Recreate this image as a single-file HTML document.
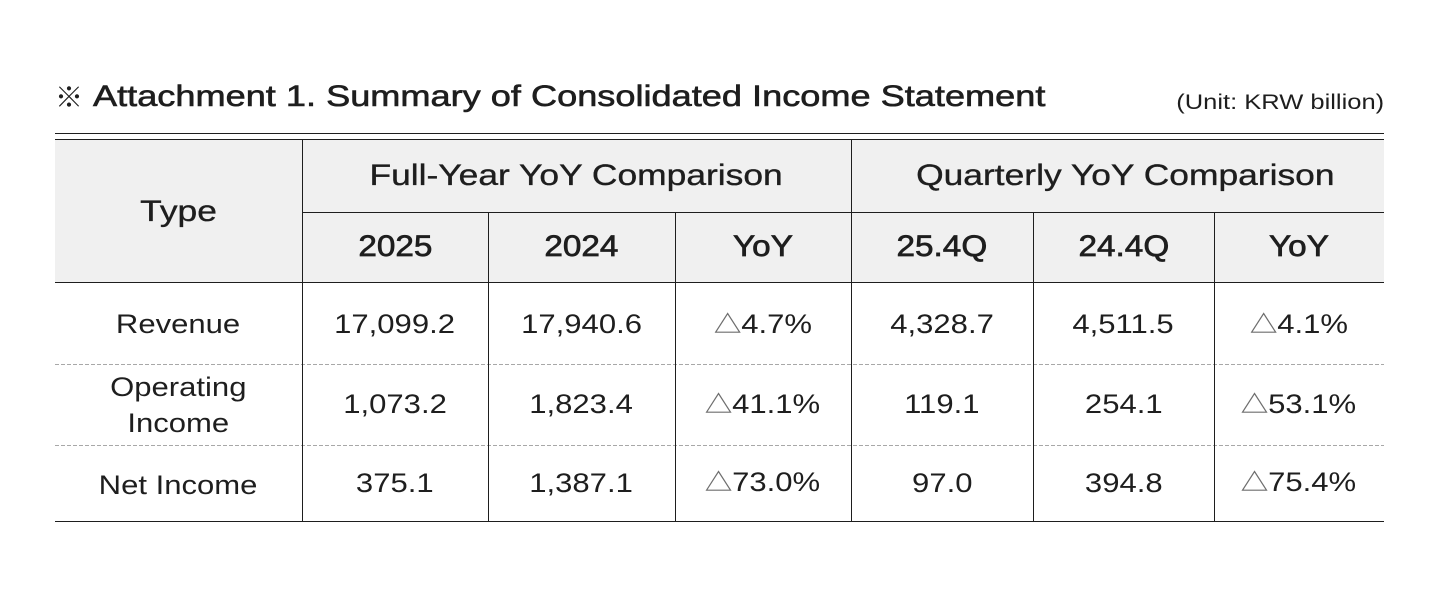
<!DOCTYPE html>
<html>
<head>
<meta charset="utf-8">
<style>
  html,body{margin:0;padding:0;background:#fff;}
  body{width:1440px;height:600px;position:relative;overflow:hidden;font-family:"Liberation Sans","Noto Sans CJK KR",sans-serif;color:#1e1e1e;}
  .c{position:absolute;height:40px;line-height:40px;text-align:center;white-space:nowrap;}
  .c span{display:inline-block;transform-origin:center center;}
  .b{font-size:27px;}
  .b span{transform:scaleX(1.15);}
  .h1{font-size:30px;-webkit-text-stroke:0.35px #1e1e1e;}
  .h1 span{transform:scaleX(1.18);}
  .h2{font-size:30px;-webkit-text-stroke:0.7px #1e1e1e;}
  .h2 span{transform:scaleX(1.11);}
  .tri{display:inline-block;width:22.6px;height:21px;vertical-align:baseline;margin-right:0.5px;}
</style>
</head>
<body>
<svg width="1440" height="600" style="position:absolute;left:0;top:0" xmlns="http://www.w3.org/2000/svg">
  <rect x="55" y="140" width="1329" height="142" fill="#f0f0f0"/>
  <g stroke="#1e1e1e" stroke-width="1">
    <line x1="55" y1="133.5" x2="1384" y2="133.5"/>
    <line x1="55" y1="139.5" x2="1384" y2="139.5"/>
    <line x1="302" y1="212.5" x2="1384" y2="212.5"/>
    <line x1="55" y1="282.5" x2="1384" y2="282.5"/>
    <line x1="55" y1="521.5" x2="1384" y2="521.5"/>
  </g>
  <g stroke="#a8a8a8" stroke-width="1" stroke-dasharray="4 2">
    <line x1="55" y1="364.5" x2="1384" y2="364.5"/>
    <line x1="55" y1="445.5" x2="1384" y2="445.5"/>
  </g>
  <g stroke="#1e1e1e" stroke-width="1">
    <line x1="302.5" y1="140" x2="302.5" y2="521"/>
    <line x1="851.5" y1="140" x2="851.5" y2="521"/>
    <line x1="488.5" y1="212" x2="488.5" y2="521"/>
    <line x1="675.5" y1="212" x2="675.5" y2="521"/>
    <line x1="1033.5" y1="212" x2="1033.5" y2="521"/>
    <line x1="1214.5" y1="212" x2="1214.5" y2="521"/>
  </g>
</svg>

<!-- Title -->
<div style="position:absolute;left:55px;top:76px;height:40px;line-height:40px;font-family:'Noto Sans CJK KR','Noto Sans CJK JP',sans-serif;font-size:28px;color:#1e1e1e;">※</div>
<div style="position:absolute;left:93px;top:76.5px;height:40px;line-height:40px;font-size:30px;white-space:nowrap;-webkit-text-stroke:0.6px #1e1e1e;transform-origin:left center;transform:scaleX(1.205);">Attachment 1. Summary of Consolidated Income Statement</div>
<div style="position:absolute;right:56px;top:82.5px;height:40px;line-height:40px;font-size:21px;white-space:nowrap;transform-origin:right center;transform:scaleX(1.215);">(Unit: KRW billion)</div>

<!-- Header -->
<div class="c h1" style="left:55px;width:247px;top:191.5px;"><span>Type</span></div>
<div class="c h1" style="left:302px;width:549px;top:155.5px;"><span>Full-Year YoY Comparison</span></div>
<div class="c h1" style="left:866px;width:518px;top:155.5px;"><span>Quarterly YoY Comparison</span></div>

<div class="c h2" style="left:302px;width:186px;top:226.5px;"><span>2025</span></div>
<div class="c h2" style="left:488px;width:187px;top:226.5px;"><span>2024</span></div>
<div class="c h2" style="left:675px;width:176px;top:226.5px;"><span>YoY</span></div>
<div class="c h2" style="left:851px;width:182px;top:226.5px;"><span>25.4Q</span></div>
<div class="c h2" style="left:1033px;width:181px;top:226.5px;"><span>24.4Q</span></div>
<div class="c h2" style="left:1214px;width:170px;top:226.5px;"><span>YoY</span></div>

<!-- Row 1 -->
<div class="c b" style="left:55px;width:247px;top:303.5px;"><span>Revenue</span></div>
<div class="c b" style="left:302px;width:186px;top:303.5px;"><span>17,099.2</span></div>
<div class="c b" style="left:488px;width:187px;top:303.5px;"><span>17,940.6</span></div>
<div class="c b" style="left:675px;width:176px;top:303.5px;"><span><svg class="tri" viewBox="0 0 26 21" preserveAspectRatio="none"><polygon points="13,1.5 25,20.2 1,20.2" fill="none" stroke="#6e6e6e" stroke-width="1.2"/></svg>4.7%</span></div>
<div class="c b" style="left:851px;width:182px;top:303.5px;"><span>4,328.7</span></div>
<div class="c b" style="left:1033px;width:181px;top:303.5px;"><span>4,511.5</span></div>
<div class="c b" style="left:1214px;width:170px;top:303.5px;"><span><svg class="tri" viewBox="0 0 26 21" preserveAspectRatio="none"><polygon points="13,1.5 25,20.2 1,20.2" fill="none" stroke="#6e6e6e" stroke-width="1.2"/></svg>4.1%</span></div>

<!-- Row 2 -->
<div class="c b" style="left:55px;width:247px;top:366.5px;"><span>Operating</span></div>
<div class="c b" style="left:55px;width:247px;top:402.5px;"><span>Income</span></div>
<div class="c b" style="left:302px;width:186px;top:383.5px;"><span>1,073.2</span></div>
<div class="c b" style="left:488px;width:187px;top:383.5px;"><span>1,823.4</span></div>
<div class="c b" style="left:675px;width:176px;top:383.5px;"><span><svg class="tri" viewBox="0 0 26 21" preserveAspectRatio="none"><polygon points="13,1.5 25,20.2 1,20.2" fill="none" stroke="#6e6e6e" stroke-width="1.2"/></svg>41.1%</span></div>
<div class="c b" style="left:851px;width:182px;top:383.5px;"><span>119.1</span></div>
<div class="c b" style="left:1033px;width:181px;top:383.5px;"><span>254.1</span></div>
<div class="c b" style="left:1214px;width:170px;top:383.5px;"><span><svg class="tri" viewBox="0 0 26 21" preserveAspectRatio="none"><polygon points="13,1.5 25,20.2 1,20.2" fill="none" stroke="#6e6e6e" stroke-width="1.2"/></svg>53.1%</span></div>

<!-- Row 3 -->
<div class="c b" style="left:55px;width:247px;top:464.5px;"><span>Net Income</span></div>
<div class="c b" style="left:302px;width:186px;top:462.5px;"><span>375.1</span></div>
<div class="c b" style="left:488px;width:187px;top:462.5px;"><span>1,387.1</span></div>
<div class="c b" style="left:675px;width:176px;top:461.5px;"><span><svg class="tri" viewBox="0 0 26 21" preserveAspectRatio="none"><polygon points="13,1.5 25,20.2 1,20.2" fill="none" stroke="#6e6e6e" stroke-width="1.2"/></svg>73.0%</span></div>
<div class="c b" style="left:851px;width:182px;top:462.5px;"><span>97.0</span></div>
<div class="c b" style="left:1033px;width:181px;top:462.5px;"><span>394.8</span></div>
<div class="c b" style="left:1214px;width:170px;top:461.5px;"><span><svg class="tri" viewBox="0 0 26 21" preserveAspectRatio="none"><polygon points="13,1.5 25,20.2 1,20.2" fill="none" stroke="#6e6e6e" stroke-width="1.2"/></svg>75.4%</span></div>
</body>
</html>
